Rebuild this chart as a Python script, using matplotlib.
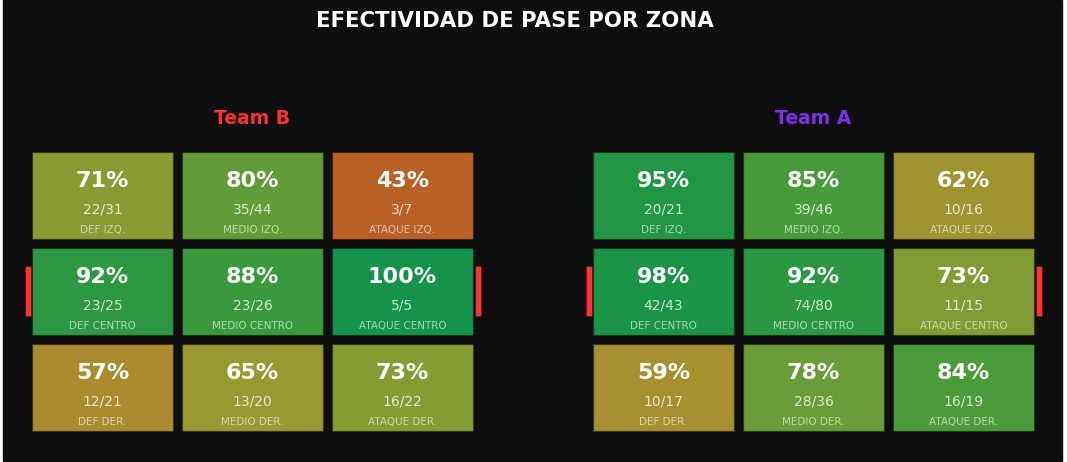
import numpy as np
import matplotlib.pyplot as plt
from matplotlib.patches import Rectangle
from matplotlib.colors import LinearSegmentedColormap

# --- Data ---
rows = ["IZQ.", "CENTRO", "DER."]
cols = ["DEF", "MEDIO", "ATAQUE"]

team_b_name = "Team B"
team_b_ok = [[22, 35, 3], [23, 23, 5], [12, 13, 16]]
team_b_total = [[31, 44, 7], [25, 26, 5], [21, 20, 22]]

team_a_name = "Team A"
team_a_ok = [[20, 39, 10], [42, 74, 11], [10, 28, 16]]
team_a_total = [[21, 46, 16], [43, 80, 15], [17, 36, 19]]

# --- Style ---
BG = "#0e0e0e"
cmap = LinearSegmentedColormap.from_list("pase", [
    (0.0, "#c0501f"), (0.05, "#b86126"), (0.283, "#aa8c2e"), (0.417, "#9a9831"),
    (0.55, "#849c35"), (0.667, "#5f9c38"), (0.8, "#3a9a3c"), (1.0, "#13944a")])

fig = plt.figure(figsize=(10.67, 4.62), dpi=100, facecolor="white")
fig.patches.append(Rectangle((3 / 1067, 1 / 462), 1059 / 1067, 461 / 462,
                             transform=fig.transFigure, color=BG, zorder=-10))

fig.text(0.483, 0.9545, "EFECTIVIDAD DE PASE POR ZONA", ha="center", va="center",
         color="white", fontsize=15.3, fontweight="bold")


def draw_team(left_px, name, name_color, ok, total):
    ax = fig.add_axes([left_px / 1067, 26.5 / 462, 450 / 1067, 288 / 462])
    ax.set_xlim(0, 3)
    ax.set_ylim(3, 0)
    ax.axis("off")
    ok = np.array(ok)
    total = np.array(total)
    pct = ok / total * 100
    for r in range(3):
        for c in range(3):
            color = cmap((pct[r, c] - 40) / 60)
            ax.add_patch(Rectangle((c + 0.03, r + 0.047), 0.94, 0.906,
                                   facecolor=color, edgecolor=(0, 0, 0, 0.3), lw=1))
            cx = c + 0.5
            ax.text(cx, r + 0.345, f"{pct[r, c]:.0f}%", ha="center", va="center",
                    color="white", fontsize=16, fontweight="bold")
            ax.text(cx, r + 0.645, f"{ok[r, c]}/{total[r, c]}", ha="center", va="center",
                    color="white", alpha=0.78, fontsize=10)
            ax.text(cx, r + 0.855, f"{cols[c]} {rows[r]}", ha="center", va="center",
                    color="white", alpha=0.6, fontsize=7.5)
    # goal markers
    for gx in (0, 3):
        ax.add_patch(Rectangle((gx - 0.02, 1.23), 0.04, 0.53, facecolor="#ff3333",
                               edgecolor=(0, 0, 0, 0.4), lw=0.5, clip_on=False))
    ax.text(1.5, -0.3, name, ha="center", va="center", color=name_color,
            fontsize=13.5, fontweight="bold", clip_on=False)


draw_team(27.5, team_b_name, "#ff3333", team_b_ok, team_b_total)
draw_team(588.5, team_a_name, "#7f30e8", team_a_ok, team_a_total)

fig.savefig("out.png", dpi=100, facecolor="white")
